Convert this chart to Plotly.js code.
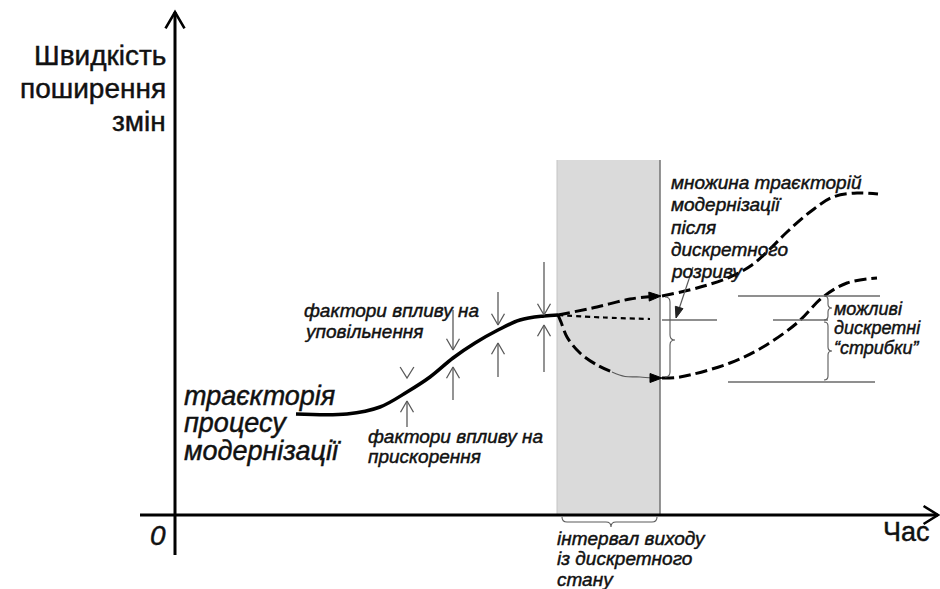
<!DOCTYPE html>
<html><head><meta charset="utf-8">
<script src="https://cdn.plot.ly/plotly-3.0.1.min.js"></script>
<style>html,body{margin:0;padding:0;background:#fff}
#chart .annotation-text{stroke:#111;stroke-width:0.45px}</style>
</head><body><div id="chart" style="width:940px;height:589px"></div>
<script>
// Conceptual coordinates: t = time, v = speed of spreading of changes (origin = axes crossing)
// Main trajectory of the modernisation process
const mainT = [121,172,205,232,255,278,300,323,345,369,383];
const mainV = [101,101,108,123,138,157,172,185,195,199,200];
// Branches inside the exit interval
const upT = [383,422,455,477];
const upV = [200,208,216,218.5];
const midT = [383,429,475];
const midV = [200,197.5,196];
const lowT = [383,386,392,405,422,437];
const lowV = [200,193,178,162,150,143];
const linkT = [437,450,465,478];
const linkV = [143,138.5,138,137];
// Trajectories after the discrete break
const postUpT = [487,522,555,577,595,612,635,658,682,703];
const postUpV = [219,227,238,250,266,283,303,318,322,321];
const postLowT = [487,505,555,588,622,648,672,702];
const postLowV = [137,138,152,168,192,218,232,237];
// Factors: slowing down (downward arrows) and acceleration (upward arrows)
const slowT = [278,323,369];
const slowFrom = [205,223,253];
const slowTo = [165,190,200];
const slowOnlyHeadT = [232];
const slowOnlyHeadV = [137];
const accT = [232,278,323,369];
const accFrom = [88,115,138,143];
const accTo = [114,148,172,190];
// Exit interval
const intervalStart = 382, intervalEnd = 485, intervalTop = 355;
// Reference levels (discrete jumps)
const refLines = [
  {t0:487, t1:542, v:195},
  {t0:563, t1:705, v:219},
  {t0:598, t1:653, v:195},
  {t0:553, t1:700, v:133}
];
// Texts
const yTitleLines = ['Швидкість','поширення','змін'];
const trajLines = ['траєкторія','процесу','модернізації'];
const slowLines = ['фактори впливу на','уповільнення'];
const accelLines = ['фактори впливу на','прискорення'];
const setLines = ['множина траєкторій','модернізації','після','дискретного','розриву'];
const jumpLines = ['можливі','дискретні','“стрибки”'];
const intervalLines = ['інтервал виходу','із дискретного','стану'];
const originLabel = '0';
const xTitle = 'Час';

const FONT = 'Liberation Sans, Arial, Helvetica, sans-serif';
const GRAY = '#5a5a5a';
const traces = [];

function line(x, y, color, width, dash, shape){
  traces.push({type:'scatter', mode:'lines', x:x, y:y, hoverinfo:'skip',
    line:{color:color, width:width, dash:dash||'solid', shape:shape||'linear', smoothing:1}});
}
function vHead(tip, dir, len, ang, color, width){
  const n = Math.hypot(dir[0], dir[1]); const dx = dir[0]/n, dy = dir[1]/n;
  const a = ang*Math.PI/180;
  const r1 = [dx*Math.cos(a)-dy*Math.sin(a), dx*Math.sin(a)+dy*Math.cos(a)];
  const r2 = [dx*Math.cos(a)+dy*Math.sin(a), -dx*Math.sin(a)+dy*Math.cos(a)];
  line([tip[0]-len*r1[0], tip[0], tip[0]-len*r2[0]], [tip[1]-len*r1[1], tip[1], tip[1]-len*r2[1]], color, width);
}
function filledHead(tip, dir, len, half, color){
  const n = Math.hypot(dir[0], dir[1]); const dx = dir[0]/n, dy = dir[1]/n;
  const bx = tip[0]-len*dx, by = tip[1]-len*dy;
  traces.push({type:'scatter', mode:'lines', hoverinfo:'skip', fill:'toself', fillcolor:color,
    x:[tip[0], bx - half*dy, bx + half*dy, tip[0]], y:[tip[1], by + half*dx, by - half*dx, tip[1]],
    line:{color:color, width:1}});
}

// axes
line([-35, 763], [0, 0], '#000', 3);
line([0, 0], [-40, 503], '#000', 3);
vHead([0, 503], [0, 1], 19, 30, '#000', 2.6);
vHead([763, 0], [1, 0], 17, 32, '#000', 2.6);

// main trajectory
line(mainT, mainV, '#000', 3.5, 'solid', 'spline');
// branches
line(upT, upV, '#000', 3, '12px,5px', 'spline');
filledHead([486, 219], [1, 0.05], 12, 4.5, '#000');
line(midT, midV, '#000', 2.2, '5px,4px', 'spline');
line(lowT, lowV, '#000', 3, '12px,5px', 'spline');
line(linkT, linkV, GRAY, 1.2, 'solid', 'spline');
filledHead([487, 137], [1, 0], 12, 4.5, '#000');
line(postUpT, postUpV, '#000', 3, '12px,5px', 'spline');
line(postLowT, postLowV, '#000', 3, '12px,5px', 'spline');

// factor arrows
slowT.forEach((t,i)=>{ line([t,t],[slowFrom[i],slowTo[i]], GRAY, 1.3); vHead([t,slowTo[i]],[0,-1],13,30,GRAY,1.3); });
slowOnlyHeadT.forEach((t,i)=>{ vHead([t,slowOnlyHeadV[i]],[0,-1],13,32,GRAY,1.3); });
accT.forEach((t,i)=>{ line([t,t],[accFrom[i],accTo[i]], GRAY, 1.3); vHead([t,accTo[i]],[0,1],13,30,GRAY,1.3); });

// reference lines
refLines.forEach(r=> line([r.t0, r.t1], [r.v, r.v], '#6a6a6a', 1.3));

// pointer from the label to the middle level
line([518, 503], [248, 203], GRAY, 1.2);
filledHead([501, 197], [-0.3, -1], 11, 4, '#222');

// braces
function vBrace(x, vTop, vBot, vTip, w, r){
  return `M${x-w},${vTop} Q${x},${vTop} ${x},${vTop-r} L${x},${vTip+r} Q${x},${vTip} ${x+w},${vTip} Q${x},${vTip} ${x},${vTip-r} L${x},${vBot+r} Q${x},${vBot} ${x-w},${vBot}`;
}
function hBrace(t1, t2, v0, tm, w, r){
  return `M${t1},${v0+w} Q${t1},${v0} ${t1+r},${v0} L${tm-r},${v0} Q${tm},${v0} ${tm},${v0-w} Q${tm},${v0} ${tm+r},${v0} L${t2-r},${v0} Q${t2},${v0} ${t2},${v0+w}`;
}
const shapes = [
  {type:'rect', xref:'x', yref:'y', x0:intervalStart, x1:intervalEnd, y0:0, y1:intervalTop,
   fillcolor:'#dadada', line:{width:0}, layer:'below'},
  {type:'line', xref:'x', yref:'y', x0:intervalEnd, x1:intervalEnd, y0:0, y1:intervalTop,
   line:{color:'#7a7a7a', width:1.6}, layer:'below'},
  {type:'line', xref:'x', yref:'y', x0:intervalStart, x1:intervalStart, y0:0, y1:intervalTop,
   line:{color:'#c4c4c4', width:1}, layer:'below'},
  {type:'path', xref:'x', yref:'y', path:vBrace(495, 218, 138, 175, 5, 5), line:{color:GRAY, width:1.1}},
  {type:'path', xref:'x', yref:'y', path:vBrace(653, 219, 195, 207, 4, 4), line:{color:GRAY, width:1.1}},
  {type:'path', xref:'x', yref:'y', path:vBrace(653, 193, 135, 164, 4, 4), line:{color:GRAY, width:1.1}},
  {type:'path', xref:'x', yref:'y', path:hBrace(387, 482, -7, 436, 5, 5), line:{color:GRAY, width:1.1}}
];

// labels (one annotation per line so baselines can be placed like the original)
const annotations = [];
function addLines(lines, t, baseV, step, size, opts){
  lines.forEach((s,i)=>{
    annotations.push(Object.assign({
      xref:'x', yref:'y', x:t, y: baseV - i*step + 0.3465*size, text:s, showarrow:false,
      xanchor:'left', yanchor:'middle', borderpad:0,
      font:{family:FONT, size:size, color:'#111', style:'italic'}
    }, opts||{}));
  });
}
addLines(yTitleLines, -8, 450, 33, 28, {xanchor:'right', align:'right', font:{family:FONT, size:28, color:'#111'}});
addLines(trajLines, 8, 110, 27.5, 27);
addLines(slowLines, 128, 198, 21, 19);
addLines(accelLines, 192, 72, 20, 19);
addLines(setLines, 495, 326, 22.3, 19);
addLines(jumpLines, 658, 200, 19.5, 18);
addLines(intervalLines, 381, -30, 20.5, 19);
addLines([originLabel], -17, -30, 0, 28, {xanchor:'center'});
addLines([xTitle], 707, -26, 0, 27, {font:{family:FONT, size:27, color:'#111'}});

const layout = {
  width:940, height:589, margin:{l:0, r:0, t:0, b:0},
  paper_bgcolor:'#fff', plot_bgcolor:'#fff', showlegend:false,
  xaxis:{range:[-175, 765], visible:false, fixedrange:true},
  yaxis:{range:[-74, 515], visible:false, fixedrange:true},
  shapes:shapes, annotations:annotations
};
Plotly.newPlot('chart', traces, layout, {staticPlot:true, displayModeBar:false});
</script></body></html>
